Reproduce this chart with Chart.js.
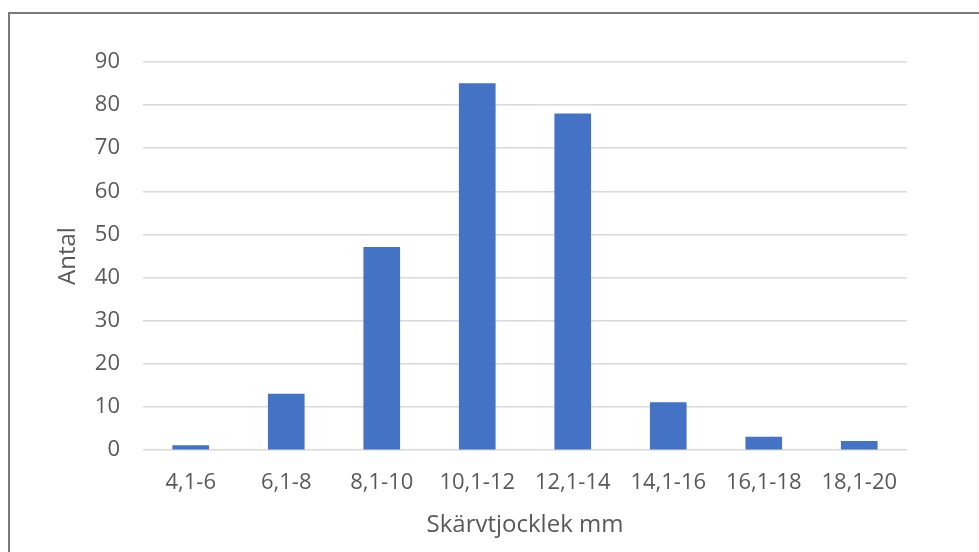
<!DOCTYPE html>
<html>
<head>
<meta charset="utf-8">
<script src="https://cdn.jsdelivr.net/npm/chart.js@4"></script>
<style>
  html, body { margin: 0; padding: 0; background: #fff; }
  #wrap { position: relative; width: 979px; height: 552px; overflow: hidden; }
  #frame { position: absolute; left: 8px; top: 12px; width: 1000px; height: 600px;
           border-left: 2px solid #7a7a7a; border-top: 2px solid #7a7a7a; pointer-events: none; }
  canvas { position: absolute; left: 0; top: 0; }
</style>
</head>
<body>
<div id="wrap">
  <canvas id="c" width="979" height="552"></canvas>
  <div id="frame"></div>
</div>
<script>
const categories = ["4,1-6", "6,1-8", "8,1-10", "10,1-12", "12,1-14", "14,1-16", "16,1-18", "18,1-20"];
const counts = [1, 13, 47, 85, 78, 11, 3, 2];
const yMin = 0, yMax = 90, yStep = 10;
const xTitle = "Skärvtjocklek mm";
const yTitle = "Antal";

const FONT = "'Open Sans', 'Noto Sans', sans-serif";

new Chart(document.getElementById('c'), {
  type: 'bar',
  data: {
    labels: categories,
    datasets: [{
      data: counts,
      backgroundColor: '#4472C4',
      borderWidth: 0,
      barThickness: 36
    }]
  },
  options: {
    responsive: false,
    animation: false,
    events: [],
    layout: { padding: { left: 0, top: 62, right: 72, bottom: 0 } },
    plugins: { legend: { display: false }, tooltip: { enabled: false } },
    scales: {
      x: {
        grid: { display: false, drawTicks: false },
        border: { display: false },
        ticks: { color: '#595959', font: { family: FONT, size: 22 }, padding: 20, maxRotation: 0, autoSkip: false },
        title: { display: true, text: xTitle, color: '#595959', font: { family: FONT, size: 24 }, padding: { top: 0, bottom: 12 } },
        afterFit: s => { s.height = 102; }
      },
      y: {
        min: yMin, max: yMax,
        grid: { color: '#d9d9d9', lineWidth: 1.5, drawTicks: false },
        border: { display: false },
        ticks: { stepSize: yStep, color: '#595959', font: { family: FONT, size: 22 }, padding: 23 },
        title: { display: true, text: yTitle, color: '#595959', font: { family: FONT, size: 24 }, padding: { top: 54, bottom: 0 } },
        afterFit: s => { s.width = 143; }
      }
    }
  }
});
</script>
</body>
</html>
